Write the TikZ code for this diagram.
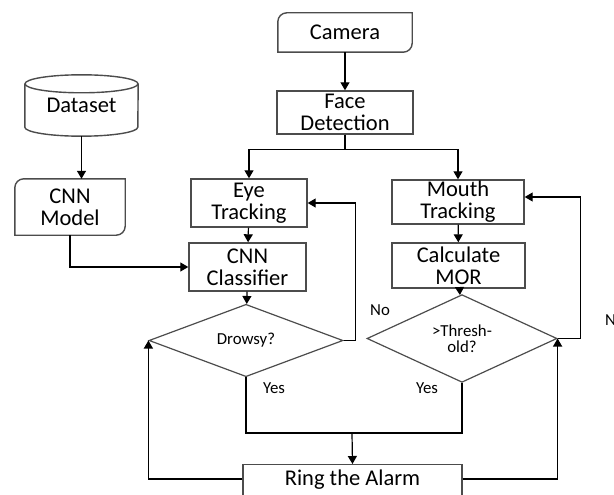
\documentclass[tikz,border=0pt]{standalone}
\usepackage{fontspec}
\setmainfont{Carlito}
\usetikzlibrary{arrows.meta,shapes.geometric}
\newcommand\bigtext{\fontsize{22.5}{22}\selectfont}
\newcommand\smalltext{\fontsize{16.8}{16}\selectfont}
\colorlet{edge}{black!70}
\tikzset{
  box/.style={draw=edge, line width=1.4pt, inner sep=0pt, align=center, font=\bigtext},
  soft/.style={inner sep=0pt, align=center, font=\bigtext},
  decision/.style={diamond, draw=edge, line width=1.2pt, inner sep=0pt, align=center, font=\smalltext},
  note/.style={inner sep=0pt, font=\smalltext},
  arr/.style={line width=1.2pt, -{Triangle[length=8pt,width=9pt]}},
  link/.style={line width=1.2pt}
}
\newcommand\cornerbox[1]{%
  \draw[draw=edge, line width=1.4pt] ([yshift=-9pt]#1.north west) arc (180:90:9pt)
    -- (#1.north east) -- ([yshift=9pt]#1.south east) arc (0:-90:9pt)
    -- (#1.south west) -- cycle;}
\begin{document}
\begin{tikzpicture}[x=1pt,y=-1pt]
    \clip (0,0) rectangle (614,495);
    \node[soft, minimum width=134pt, minimum height=39pt] (cam) at (345,32.5) {Camera};
    \cornerbox{cam}
    \node[box, minimum width=136pt, minimum height=43pt] (face) at (345,112.5) {Face\\Detection};
    \node[box, minimum width=116pt, minimum height=48pt] (eye) at (249,203) {Eye\\Tracking};
    \node[box, minimum width=132pt, minimum height=44pt] (mouth) at (458,202) {Mouth\\Tracking};
    \node[box, minimum width=117pt, minimum height=48pt] (cls) at (247.5,267) {CNN\\Classifier};
    \node[box, minimum width=133pt, minimum height=45pt] (mor) at (458.5,265.5) {Calculate\\MOR};
    \node[soft, minimum width=110pt, minimum height=56pt] (model) at (70,207) {CNN\\Model};
    \cornerbox{model}
    \node[soft, minimum width=113pt, minimum height=61pt] (data) at (81.5,105.5) {Dataset};
    \draw[draw=edge, line width=1.4pt] ([yshift=-9pt]data.north) ellipse [x radius=56.5pt, y radius=9pt];
    \draw[draw=edge, line width=1.4pt] ([yshift=-9pt]data.north west) -- ([yshift=9pt]data.south west)
        arc [start angle=180, end angle=360, x radius=56.5pt, y radius=9pt] -- ([yshift=-9pt]data.north east);
    \node[decision, minimum width=194pt, minimum height=63pt] (drowsy) at (246,340.5) {Drowsy?};
    \node[decision, minimum width=190pt, minimum height=67pt] (thr) at (462,338.5) {>Thresh-\\old?};
    \node[box, anchor=north, minimum width=219pt, minimum height=50pt, text height=14pt, text depth=22pt] (alarm) at (352.5,464) {Ring the Alarm};
    \coordinate (join) at (352,433);
    \node[note] (nol) at (380,310) {No};
    \node[note, anchor=west] (nor) at (605,320) {No};
    \node[note] (yesl) at (274,388) {Yes};
    \node[note] (yesr) at (427,388) {Yes};
    \draw[arr] (cam) -- (face);
    \draw[arr] (face.south) -- ++(0,15) -| (eye.north);
    \draw[arr] (face.south) -- ++(0,15) -| (mouth.north);
    \draw[arr] (data.south) -- (data.south |- model.north);
    \draw[arr] (model.south) |- (cls.west);
    \draw[arr] (eye) -- (cls);
    \draw[arr] (mouth) -- (mor);
    \draw[arr] (cls) -- (drowsy);
    \draw[arr] (mor) -- (thr);
    \draw[arr] (drowsy.east) -- ++(12,0) |- (eye.east);
    \draw[arr] (thr.east) -- ++(23,0) |- ([yshift=5pt]mouth.east);
    \draw[link] (drowsy.south) |- (join) -| (thr.south);
    \draw[arr] (join) -- (alarm.north);
    \draw[arr] ([yshift=-15pt]alarm.north west) -| (drowsy.west);
    \draw[arr] ([yshift=-15pt]alarm.north east) -| (thr.east);
\end{tikzpicture}
\end{document}
